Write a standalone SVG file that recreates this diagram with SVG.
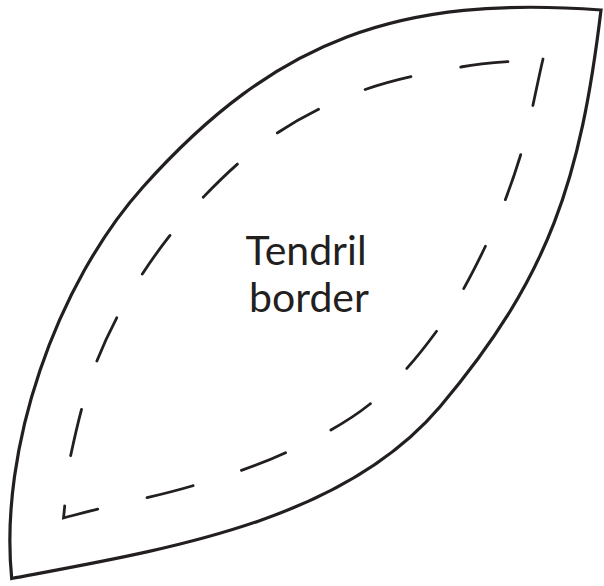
<svg xmlns="http://www.w3.org/2000/svg" width="604" height="586" viewBox="0 0 604 586">
  <style>
    .outline { fill: #ffffff; stroke: #231f20; stroke-width: 3.2; stroke-linejoin: miter; stroke-miterlimit: 20; }
    .seam { fill: none; stroke: #231f20; stroke-width: 2.8; stroke-linecap: round; stroke-linejoin: miter; stroke-dasharray: 47.5 50.6; }
    .label { font-family: Lato, "Open Sans", "Liberation Sans", sans-serif; font-size: 41px; fill: #231f20; text-anchor: middle; }
  </style>
  <rect width="604" height="586" fill="#ffffff"/>
  <g id="leaf-outline">
    <path class="outline" d="M11.7,578.5 C-1.3,449 56.3,283.9 143,187 C276.4,38 400.6,-4.8 601,10 C580.7,178.5 549.8,277 440,406.7 C343.1,521.2 168.7,549 11.7,578.5 Z"/>
  </g>
  <g id="connectors">
    <path class="seam" pathLength="1456" d="M543,59 C535.3,91.7 529.7,125.5 520,157 C510.3,188.5 498.6,218.8 484.6,248 C470.6,277.2 455.1,306 436,332 C416.9,358 395.2,383.8 370,404 C344.8,424.2 314.7,439.3 285,453 C255.3,466.7 223.2,476.7 192,486 C160.8,495.3 119.4,503.7 98,509 C76.6,514.3 75,515 63.5,518 C66,496.7 65.4,480.3 71,454 C76.6,427.7 85.3,390.2 97.3,360 C109.3,329.8 125.25,300.2 143,273 C160.75,245.8 181.3,220 203.8,196.6 C226.3,173.2 251.1,150.3 278,132.5 C304.9,114.7 334.5,100.5 365,89.6 C395.5,78.7 431.1,72.1 460.8,67 C490.5,61.9 515.6,61.7 543,59"/>
  </g>
  <g id="label">
    <text class="label" x="306" y="265">Tendril</text>
    <text class="label" x="309" y="312">border</text>
  </g>
</svg>
